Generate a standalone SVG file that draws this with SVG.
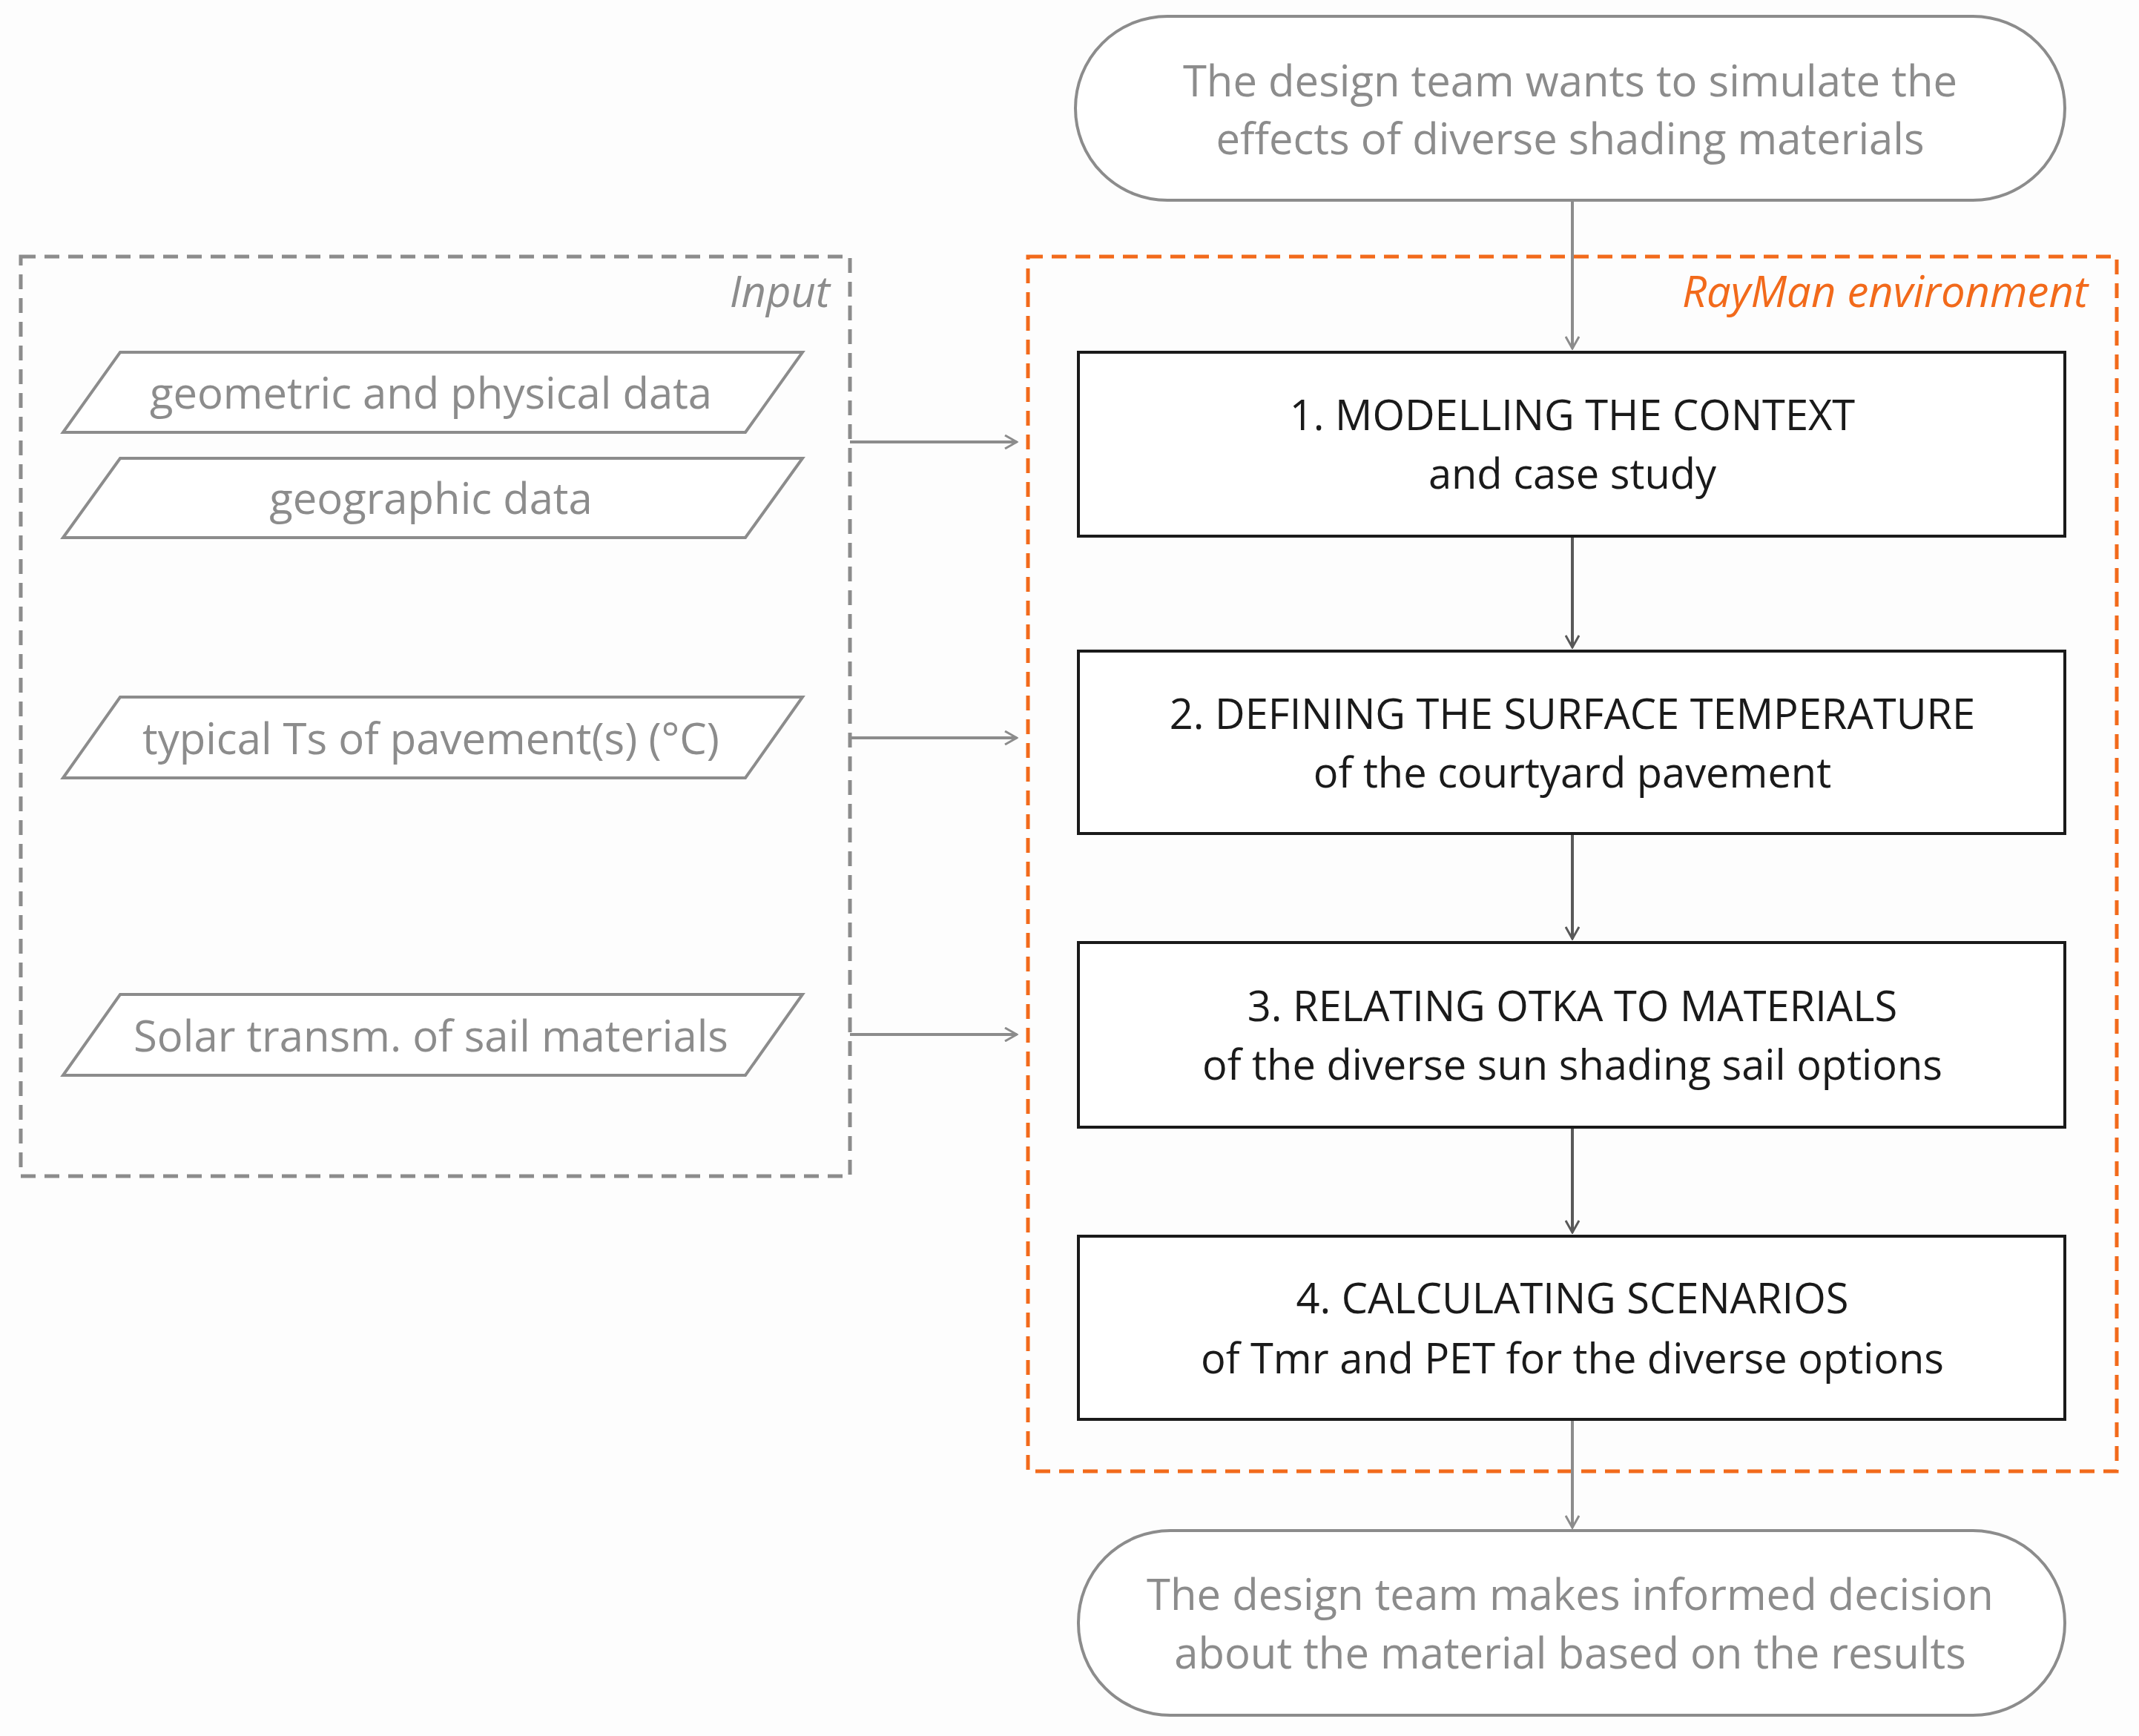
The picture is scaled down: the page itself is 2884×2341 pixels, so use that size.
<svg xmlns="http://www.w3.org/2000/svg" width="2884" height="2341" viewBox="0 0 2884 2341">
<defs>
<style>
text{font-family:"Open Sans","Noto Sans","Liberation Sans",sans-serif;text-anchor:middle}
.g{fill:#8c8c8c;font-size:58px}
.k{fill:#1a1a1a;font-size:56px}
.box{fill:#fff;stroke:#1a1a1a;stroke-width:4}
.term{fill:#fff;stroke:#8c8c8c;stroke-width:4}
.par{fill:#fff;stroke:#8c8c8c;stroke-width:4}
.c{stroke:#595959;stroke-width:4;fill:none}
.cg{stroke:#8c8c8c;stroke-width:4;fill:none}
</style>
<marker id="a" viewBox="0 0 20 20" refX="18" refY="10" markerWidth="20" markerHeight="20" markerUnits="userSpaceOnUse" orient="auto"><path d="M2,1 L18,10 L2,19" fill="none" stroke="#595959" stroke-width="3"/></marker>
<marker id="ag" viewBox="0 0 20 20" refX="18" refY="10" markerWidth="20" markerHeight="20" markerUnits="userSpaceOnUse" orient="auto"><path d="M2,1 L18,10 L2,19" fill="none" stroke="#8c8c8c" stroke-width="3"/></marker>
</defs>
<rect width="2884" height="2341" fill="#fdfdfd"/>
<g id="input-frame"><rect x="28" y="346" width="1118" height="1240" fill="none" stroke="#8c8c8c" stroke-width="5" stroke-dasharray="20,12"/><text x="1119" y="414" class="g" style="text-anchor:end;font-style:italic">Input</text></g>
<g id="rayman-frame"><rect x="1386" y="346" width="1468" height="1638" fill="none" stroke="#f26a1b" stroke-width="5" stroke-dasharray="20,12"/><text x="2815" y="414" style="text-anchor:end;font-style:italic;font-size:58px;fill:#f26a1b">RayMan environment</text></g>
<g id="connectors">
<line class="cg" x1="2120" y1="270" x2="2120" y2="470" marker-end="url(#ag)"/>
<line class="c" x1="2120" y1="723" x2="2120" y2="873" marker-end="url(#a)"/>
<line class="c" x1="2120" y1="1124" x2="2120" y2="1266" marker-end="url(#a)"/>
<line class="c" x1="2120" y1="1520" x2="2120" y2="1662" marker-end="url(#a)"/>
<line class="cg" x1="2120" y1="1914" x2="2120" y2="2060" marker-end="url(#ag)"/>
<line class="cg" x1="1146" y1="596" x2="1371" y2="596" marker-end="url(#ag)"/>
<line class="cg" x1="1146" y1="995" x2="1371" y2="995" marker-end="url(#ag)"/>
<line class="cg" x1="1146" y1="1395" x2="1371" y2="1395" marker-end="url(#ag)"/>
</g>
<g id="start"><rect class="term" x="1450" y="22" width="1334" height="248" rx="124"/><text class="g" x="2117" y="130">The design team wants to simulate the</text><text class="g" x="2117" y="208">effects of diverse shading materials</text></g>
<g id="p1"><polygon class="par" points="162,475 1082,475 1005,583 85,583"/><text class="g" x="581" y="551">geometric and physical data</text></g>
<g id="p2"><polygon class="par" points="162,618 1082,618 1005,725 85,725"/><text class="g" x="581" y="693">geographic data</text></g>
<g id="p3"><polygon class="par" points="162,940 1082,940 1005,1049 85,1049"/><text class="g" x="581" y="1017">typical Ts of pavement(s) (°C)</text></g>
<g id="p4"><polygon class="par" points="162,1341 1082,1341 1005,1450 85,1450"/><text class="g" x="581" y="1418">Solar transm. of sail materials</text></g>
<g id="b1"><rect class="box" x="1454" y="475" width="1330" height="248"/><text class="k" x="2120" y="580">1. MODELLING THE CONTEXT</text><text class="k" x="2120" y="659">and case study</text></g>
<g id="b2"><rect class="box" x="1454" y="878" width="1330" height="246"/><text class="k" x="2120" y="983">2. DEFINING THE SURFACE TEMPERATURE</text><text class="k" x="2120" y="1062">of the courtyard pavement</text></g>
<g id="b3"><rect class="box" x="1454" y="1271" width="1330" height="249"/><text class="k" x="2120" y="1377">3. RELATING OTKA TO MATERIALS</text><text class="k" x="2120" y="1456">of the diverse sun shading sail options</text></g>
<g id="b4"><rect class="box" x="1454" y="1667" width="1330" height="247"/><text class="k" x="2120" y="1771">4. CALCULATING SCENARIOS</text><text class="k" x="2120" y="1852">of Tmr and PET for the diverse options</text></g>
<g id="end"><rect class="term" x="1454" y="2064" width="1330" height="249" rx="124"/><text class="g" x="2117" y="2171">The design team makes informed decision</text><text class="g" x="2117" y="2250">about the material based on the results</text></g>
</svg>
